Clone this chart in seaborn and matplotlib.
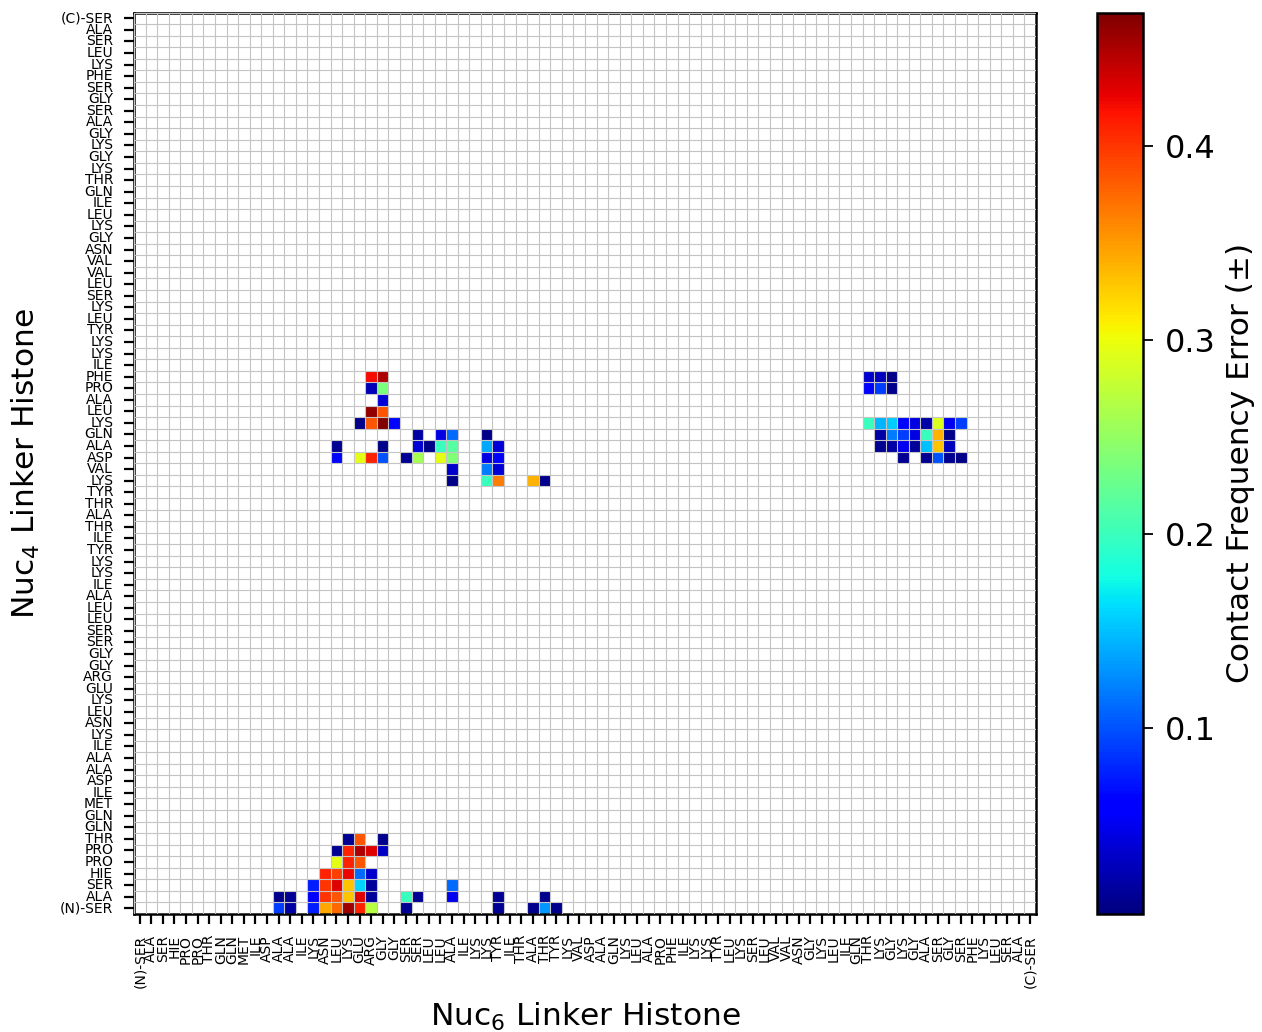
import numpy as np
import pandas as pd
import matplotlib
matplotlib.use("Agg")
import matplotlib.pyplot as plt
import seaborn as sns

# residue sequence, N -> C terminus (same sequence for both linker histones)
residues = ["(N)-SER", "ALA", "SER", "HIE", "PRO", "PRO", "THR", "GLN", "GLN", "MET",
            "ILE", "ASP", "ALA", "ALA", "ILE", "LYS", "ASN", "LEU", "LYS", "GLU",
            "ARG", "GLY", "GLY", "SER", "SER", "LEU", "LEU", "ALA", "ILE", "LYS",
            "LYS", "TYR", "ILE", "THR", "ALA", "THR", "TYR", "LYS", "VAL", "ASP",
            "ALA", "GLN", "LYS", "LEU", "ALA", "PRO", "PHE", "ILE", "LYS", "LYS",
            "TYR", "LEU", "LYS", "SER", "LEU", "VAL", "VAL", "ASN", "GLY", "LYS",
            "LEU", "ILE", "GLN", "THR", "LYS", "GLY", "LYS", "GLY", "ALA", "SER",
            "GLY", "SER", "PHE", "LYS", "LEU", "SER", "ALA", "(C)-SER"]

# contacts: Nuc4 residue index, Nuc6 residue index, contact frequency error
nuc4_idx = ([46] * 5 + [45] * 5 + [44] + [43] * 2 + [42] * 13 + [41] * 11 + [40] * 15
            + [39] * 15 + [38] * 3 + [37] * 5 + [6] * 3 + [5] * 5 + [4] * 3 + [3] * 5
            + [2] * 7 + [1] * 13 + [0] * 13)
nuc6_idx = [20, 21, 63, 64, 65,
            20, 21, 63, 64, 65,
            21,
            20, 21,
            19, 20, 21, 22, 63, 64, 65, 66, 67, 68, 69, 70, 71,
            24, 26, 27, 30, 64, 65, 66, 67, 68, 69, 70,
            17, 21, 24, 25, 26, 27, 30, 31, 64, 65, 66, 67, 68, 69, 70,
            17, 19, 20, 21, 23, 24, 26, 27, 30, 31, 66, 68, 69, 70, 71,
            27, 30, 31,
            27, 30, 31, 34, 35,
            18, 19, 21,
            17, 18, 19, 20, 21,
            17, 18, 19,
            16, 17, 18, 19, 20,
            15, 16, 17, 18, 19, 20, 27,
            12, 13, 15, 16, 17, 18, 19, 20, 23, 24, 27, 31, 35,
            12, 13, 15, 16, 17, 18, 19, 20, 23, 31, 34, 35, 36]
err_vals = [0.42, 0.45, 0.035, 0.03, 0.008,
            0.027, 0.236, 0.055, 0.09, 0.01,
            0.04,
            0.46, 0.385,
            0.008, 0.385, 0.469, 0.065, 0.2, 0.145, 0.155, 0.055, 0.045, 0.02, 0.29, 0.05, 0.09,
            0.02, 0.045, 0.11, 0.008, 0.02, 0.12, 0.09, 0.045, 0.2, 0.34, 0.008,
            0.012, 0.008, 0.04, 0.008, 0.2, 0.215, 0.14, 0.04, 0.012, 0.02, 0.05, 0.015, 0.15, 0.33, 0.03,
            0.065, 0.295, 0.41, 0.1, 0.012, 0.26, 0.295, 0.24, 0.045, 0.055, 0.012, 0.012, 0.1, 0.012, 0.008,
            0.035, 0.12, 0.04,
            0.008, 0.2, 0.365, 0.34, 0.01,
            0.012, 0.385, 0.01,
            0.012, 0.41, 0.45, 0.43, 0.033,
            0.295, 0.41, 0.385,
            0.41, 0.395, 0.425, 0.11, 0.035,
            0.075, 0.4, 0.43, 0.33, 0.16, 0.015, 0.11,
            0.01, 0.012, 0.055, 0.4, 0.385, 0.33, 0.43, 0.015, 0.2, 0.012, 0.05, 0.012, 0.01,
            0.09, 0.02, 0.075, 0.345, 0.375, 0.455, 0.41, 0.27, 0.012, 0.012, 0.01, 0.13, 0.01]

n = len(residues)
mat = np.full((n, n), np.nan)
for i, j, v in zip(nuc4_idx, nuc6_idx, err_vals):
    mat[n - 1 - i, j] = v          # C-terminus on top
df = pd.DataFrame(mat)

fig = plt.figure(figsize=(12.62, 10.32), dpi=100)
ax = fig.add_axes([0.1062, 0.1143, 0.7147, 0.8735])
cax = fig.add_axes([0.8692, 0.1143, 0.0365, 0.8735])

sns.heatmap(df, cmap="jet", vmin=0.004, vmax=0.469, ax=ax, cbar_ax=cax,
            xticklabels=residues, yticklabels=residues[::-1], square=False)

# light grid between all cells
ax.set_xticks(np.arange(n + 1), minor=True)
ax.set_yticks(np.arange(n + 1), minor=True)
ax.grid(which="minor", color="#c4c4c4", lw=0.8)
ax.grid(which="major", visible=False)
ax.set_axisbelow(False)
ax.tick_params(which="minor", length=0)
ax.tick_params(which="major", length=7.5, width=1.6, labelsize=10, pad=7.5)
plt.setp(ax.get_xticklabels(), rotation=90)
plt.setp(ax.get_yticklabels(), rotation=0)
for s in ax.spines.values():
    s.set_visible(True)
    s.set_linewidth(1.8)

ax.set_ylabel("Nuc$_4$ Linker Histone", fontsize=22.5)
ax.set_xlabel("Nuc$_6$ Linker Histone", fontsize=22.5)
ax.yaxis.set_label_coords(-0.102, 0.5)
ax.xaxis.set_label_coords(0.5, -0.096)

cbar = ax.collections[0].colorbar
cbar.outline.set_linewidth(1.8)
cbar.outline.set_edgecolor("black")
cbar.set_ticks([0.1, 0.2, 0.3, 0.4])
cbar.ax.tick_params(labelsize=23, length=7.5, width=1.3, pad=8)
cbar.set_label("Contact Frequency Error (±)", fontsize=22.5)
cax.yaxis.set_label_coords(2.8, 0.5)

fig.savefig("out.png", dpi=100)
